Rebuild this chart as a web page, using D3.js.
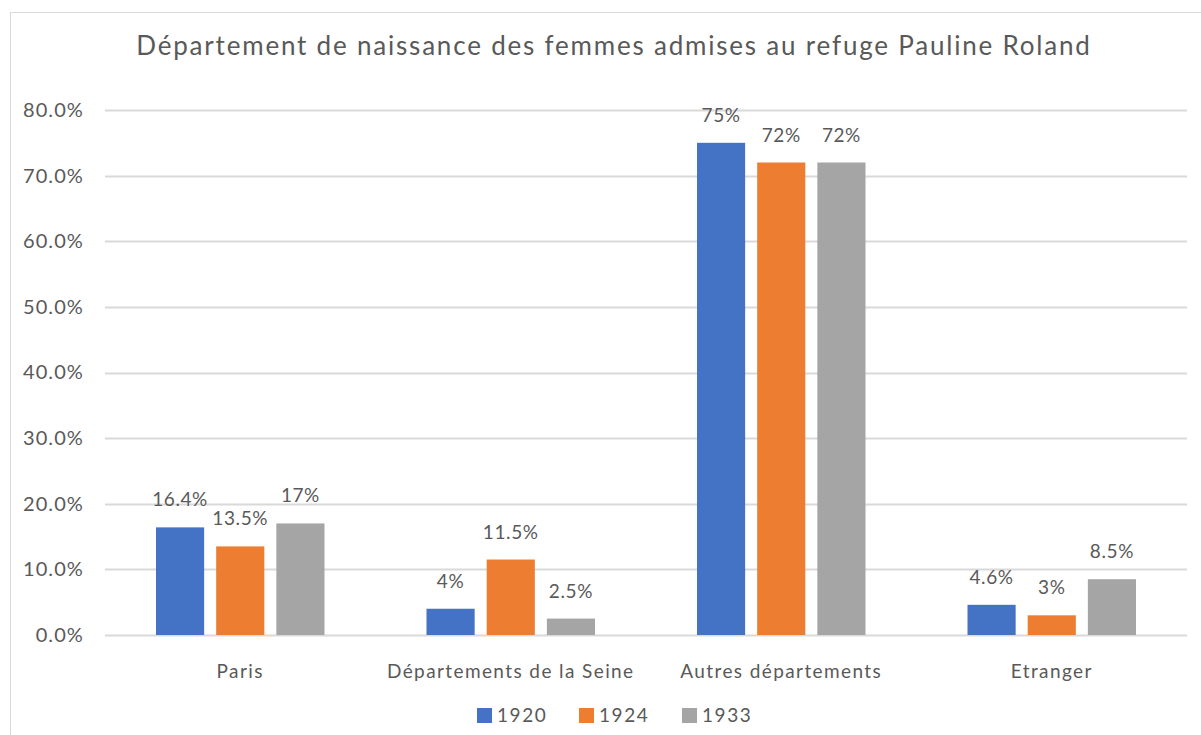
<!DOCTYPE html>
<html>
<head>
<meta charset="utf-8">
<script src="https://cdn.jsdelivr.net/npm/d3@7"></script>
<style>
  body { margin: 0; background: #fff; }
  text { font-family: Lato, "Open Sans", sans-serif; fill: #595959; }
</style>
</head>
<body>
<script>
var width = 1201,
  height = 735;

var categories = ["Paris", "Départements de la Seine", "Autres départements", "Etranger"];
var series = ["1920", "1924", "1933"];
var colors = ["#4472c4", "#ed7d31", "#a5a5a5"];

var values1920 = [16.4, 4, 75, 4.6];
var values1924 = [13.5, 11.5, 72, 3];
var values1933 = [17, 2.5, 72, 8.5];
var labels1920 = ["16.4%", "4%", "75%", "4.6%"];
var labels1924 = ["13.5%", "11.5%", "72%", "3%"];
var labels1933 = ["17%", "2.5%", "72%", "8.5%"];

var yTicks = [0, 10, 20, 30, 40, 50, 60, 70, 80];

var seriesValues = [values1920, values1924, values1933];
var seriesLabels = [labels1920, labels1924, labels1933];

var margin = { top: 110, right: 14, bottom: 100, left: 105 };

var svg = d3.select("body").append("svg")
  .attr("width", width)
  .attr("height", height);

// chart frame
svg.append("rect")
  .attr("x", 10.5)
  .attr("y", 12.5)
  .attr("width", 1200)
  .attr("height", 730)
  .attr("fill", "none")
  .attr("stroke", "#d9d9d9");

var x0 = d3.scaleBand()
  .domain(categories)
  .range([margin.left, width - margin.right]);

var x1 = d3.scaleBand()
  .domain(series)
  .range([51, x0.bandwidth() - 51])
  .paddingInner(0.2);

var y = d3.scaleLinear()
  .domain([0, 80])
  .range([height - margin.bottom, margin.top]);

svg.append("text")
  .attr("x", 614)
  .attr("y", 55)
  .attr("text-anchor", "middle")
  .attr("font-size", "26px")
  .attr("letter-spacing", "1.8px")
  .text("Département de naissance des femmes admises au refuge Pauline Roland");

// gridlines
svg.append("g")
  .selectAll("line")
  .data(yTicks)
  .enter().append("line")
    .attr("x1", margin.left)
    .attr("x2", width - margin.right)
    .attr("y1", function(d) { return Math.round(y(d)) + 0.5; })
    .attr("y2", function(d) { return Math.round(y(d)) + 0.5; })
    .attr("stroke", "#d9d9d9")
    .attr("stroke-width", 2);

var yAxis = d3.axisLeft(y)
  .tickValues(yTicks)
  .tickSize(0)
  .tickPadding(0)
  .tickFormat(function(d) { return d3.format(".1f")(d) + "%"; });

var yg = svg.append("g")
  .attr("transform", "translate(84,0)")
  .call(yAxis);
yg.select(".domain").remove();
yg.selectAll("text")
  .attr("font-size", "20px")
  .attr("font-family", null)
  .attr("letter-spacing", "1.1px")
  .attr("fill", "#595959");

var groups = svg.append("g")
  .selectAll("g")
  .data(categories)
  .enter().append("g")
    .attr("transform", function(d) { return "translate(" + x0(d) + ",0)"; });

series.forEach(function(s, si) {
  groups.append("rect")
    .attr("x", x1(s))
    .attr("width", x1.bandwidth())
    .attr("y", function(d, i) { return y(seriesValues[si][i]); })
    .attr("height", function(d, i) { return y(0) - y(seriesValues[si][i]); })
    .attr("fill", colors[si]);

  groups.append("text")
    .attr("x", x1(s) + x1.bandwidth() / 2)
    .attr("y", function(d, i) { return y(seriesValues[si][i]) - 21; })
    .attr("text-anchor", "middle")
    .attr("font-size", "19px")
    .attr("letter-spacing", "0.6px")
    .text(function(d, i) { return seriesLabels[si][i]; });
});

svg.append("g")
  .selectAll("text")
  .data(categories)
  .enter().append("text")
    .attr("x", function(d) { return x0(d) + x0.bandwidth() / 2; })
    .attr("y", 678)
    .attr("text-anchor", "middle")
    .attr("font-size", "19px")
    .attr("letter-spacing", "1.4px")
    .text(function(d) { return d; });

// legend
var legendX = [477, 579, 682];
var legend = svg.append("g")
  .selectAll("g")
  .data(series)
  .enter().append("g")
    .attr("transform", function(d, i) { return "translate(" + legendX[i] + ",708)"; });

legend.append("rect")
  .attr("width", 15)
  .attr("height", 15)
  .attr("fill", function(d, i) { return colors[i]; });

legend.append("text")
  .attr("x", 20)
  .attr("y", 14)
  .attr("font-size", "19px")
  .attr("letter-spacing", "1.6px")
  .text(function(d) { return d; });
</script>
</body>
</html>
